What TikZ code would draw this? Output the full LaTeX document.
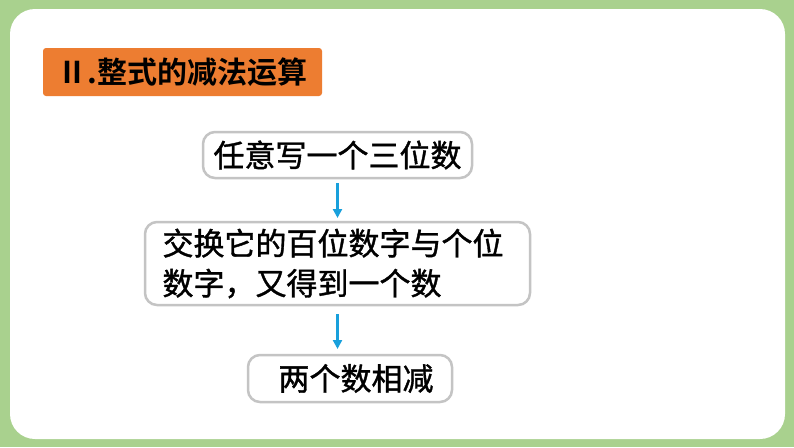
\documentclass[tikz,border=0pt]{standalone}
\usepackage{fontspec}
\setmainfont[FakeBold=1.2]{Noto Sans CJK SC}
\newfontfamily\titlefont{Noto Sans CJK SC Bold}
\usetikzlibrary{arrows.meta}

\definecolor{pagegreen}{RGB}{169,209,142}
\definecolor{titleorange}{RGB}{237,125,49}
\definecolor{boxgray}{RGB}{196,196,196}
\definecolor{flowblue}{RGB}{24,160,220}

\begin{document}
\begin{tikzpicture}[x=1pt, y=-1pt,
    every node/.style = {inner sep=0pt, outer sep=0pt, text=black,
                         font=\fontsize{31}{40}\selectfont},
         title/.style = {fill=titleorange, rounded corners=3pt,
                         minimum width=279pt, minimum height=48pt,
                         font=\titlefont\fontsize{30}{40}\selectfont},
       stepbox/.style = {draw=boxgray, line width=2.5pt, fill=white,
                         rounded corners=12pt},
          flow/.style = {draw=flowblue, line width=2.2pt,
                         -{Triangle[length=9pt,width=9pt]}}]%
  % page
  \useasboundingbox (0,0) rectangle (794,447);
  \fill [pagegreen] (0,0) rectangle (794,447);
  \fill [white, rounded corners=25pt] (10,9) rectangle (785,439);
  % title
  \node [title] (head) at (182.5,72) {Ⅱ.整式的减法运算};
  % 1st box
  \node [stepbox, minimum width=269pt, minimum height=46pt]
        (write) at (337.5,155) {任意写一个三位数};
  % 2nd box
  \node [stepbox, align=left, text width=350pt, inner xsep=17.5pt,
         minimum height=83pt]
        (swap) at (337.5,263.5) {交换它的百位数字与个位\\数字，又得到一个数};
  % 3rd box
  \node [stepbox, minimum width=204pt, minimum height=47pt]
        (minus) at (350,378.5) {\hspace*{12pt}两个数相减};
  % arrows
  \draw [flow, shorten <=5pt, shorten >=4pt] (write.south) -- (swap.north);
  \draw [flow, shorten <=9pt, shorten >=6pt] (swap.south) -- (swap.south |- minus.north);
\end{tikzpicture}
\end{document}
